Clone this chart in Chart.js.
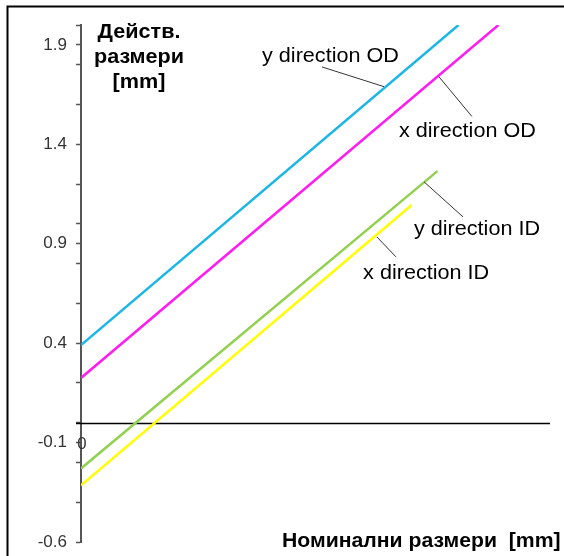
<!DOCTYPE html>
<html>
<head>
<meta charset="utf-8">
<script src="https://cdn.jsdelivr.net/npm/chart.js@4"></script>
<style>
  html, body { margin: 0; padding: 0; background: #fff; }
  #wrap { width: 564px; height: 556px; position: relative; }
</style>
</head>
<body>
<div id="wrap"><canvas id="c"></canvas></div>
<script>
// ---- data ----
const seriesNames = ["y direction OD", "x direction OD", "y direction ID", "x direction ID"];
const nominalStart = [0, 0, 0, 0];
const nominalEnd   = [1.61, 1.78, 1.52, 1.41];
const actualStart  = [0.39, 0.225, -0.23, -0.315];
const actualEnd    = [2.0, 2.0, 1.265, 1.095];
const yTickValues  = [-0.6, -0.4, -0.2, -0.1, 0, 0.2, 0.4, 0.6, 0.8, 0.9, 1.0, 1.2, 1.4, 1.6, 1.8, 1.9, 2.0];
const yTickLabels  = ["1.9", "1.4", "0.9", "0.4", "-0.1", "-0.6"];
const xTickLabels  = ["0"];
const yTitleLines  = ["Действ.", "размери", "[mm]"];
const xTitle       = "Номинални размери  [mm]";

// ---- styles / annotation anchors (data coordinates) ----
const colors = ["#1cb6e6", "#ff1cf0", "#92d050", "#ffff00"];
const labelAnchors = [[0.772, 1.814], [1.356, 1.437], [1.420, 0.944], [1.203, 0.723]];
const leaderLines = [
  [1.028, 1.789, 1.292, 1.690],
  [1.527, 1.739, 1.667, 1.540],
  [1.463, 1.211, 1.629, 1.035],
  [1.262, 0.934, 1.343, 0.834]
];

const datasets = seriesNames.map((n, i) => ({
  label: n,
  data: [{x: nominalStart[i], y: actualStart[i]}, {x: nominalEnd[i], y: actualEnd[i]}],
  borderColor: colors[i],
  backgroundColor: colors[i],
  borderWidth: 2.5,
  showLine: true,
  pointRadius: 0,
  tension: 0
}));

function stretchText(ctx, text, x, y, font, align, sx) {
  ctx.save();
  ctx.font = font;
  const w = ctx.measureText(text).width * sx;
  let left = x;
  if (align === 'center') left = x - w / 2;
  else if (align === 'right') left = x - w;
  ctx.translate(left, y);
  ctx.scale(sx, 1);
  ctx.textAlign = 'left';
  ctx.textBaseline = 'alphabetic';
  ctx.fillText(text, 0, 0);
  ctx.restore();
}

const decor = {
  id: 'decor',
  beforeDatasetsDraw(chart) {
    const ctx = chart.ctx, xs = chart.scales.x, ys = chart.scales.y;
    const y0 = Math.round(ys.getPixelForValue(0)) + 0.5;
    ctx.save();
    ctx.strokeStyle = '#000';
    ctx.lineWidth = 1.5;
    ctx.beginPath();
    ctx.moveTo(xs.getPixelForValue(0) - 5, y0);
    ctx.lineTo(xs.getPixelForValue(2), y0);
    ctx.stroke();
    ctx.restore();
  },
  afterDraw(chart) {
    const ctx = chart.ctx, xs = chart.scales.x, ys = chart.scales.y;
    ctx.save();
    // frame
    ctx.strokeStyle = '#000';
    ctx.lineWidth = 2;
    ctx.beginPath();
    ctx.moveTo(7.5, 556);
    ctx.lineTo(7.5, 6.5);
    ctx.lineTo(564, 6.5);
    ctx.stroke();
    // leader lines
    ctx.strokeStyle = '#333';
    ctx.lineWidth = 1;
    leaderLines.forEach(l => {
      ctx.beginPath();
      ctx.moveTo(xs.getPixelForValue(l[0]), ys.getPixelForValue(l[1]));
      ctx.lineTo(xs.getPixelForValue(l[2]), ys.getPixelForValue(l[3]));
      ctx.stroke();
    });
    // series labels
    ctx.fillStyle = '#000';
    seriesNames.forEach((n, i) => {
      stretchText(ctx, n, xs.getPixelForValue(labelAnchors[i][0]), ys.getPixelForValue(labelAnchors[i][1]),
        '20px "Liberation Sans", Arial, sans-serif', 'left', 1.08);
    });
    // x tick label "0"
    ctx.fillStyle = '#333';
    stretchText(ctx, xTickLabels[0], xs.getPixelForValue(0) + 1, ys.getPixelForValue(0) + 26,
      '16px "Liberation Sans", Arial, sans-serif', 'center', 1.05);
    // y title
    ctx.fillStyle = '#000';
    yTitleLines.forEach((t, i) => {
      stretchText(ctx, t, 139, 38 + i * 25, 'bold 20px "Liberation Sans", Arial, sans-serif', 'center', 1.08);
    });
    // x title
    stretchText(ctx, xTitle, 282, 547, 'bold 20px "Liberation Sans", Arial, sans-serif', 'left', 1.06);
    ctx.restore();
  }
};

new Chart(document.getElementById('c'), {
  type: 'scatter',
  data: { datasets },
  plugins: [decor],
  options: {
    responsive: true,
    maintainAspectRatio: false,
    animation: false,
    layout: { padding: { left: 0, top: 25, right: 14, bottom: 14 } },
    plugins: { legend: { display: false }, tooltip: { enabled: false } },
    scales: {
      x: { type: 'linear', min: 0, max: 2, display: false },
      y: {
        type: 'linear', min: -0.6, max: 2.0,
        afterBuildTicks(scale) { scale.ticks = yTickValues.map(v => ({ value: v })); },
        afterFit(scale) { scale.width = 81; scale.paddingTop = 0; scale.paddingBottom = 0; },
        grid: { drawOnChartArea: false, drawTicks: true, tickLength: 5, tickColor: '#555', tickWidth: 1.5 },
        border: { display: true, color: '#555', width: 2 },
        ticks: {
          autoSkip: false,
          padding: 9,
          color: '#333',
          font: { family: '"Liberation Sans", Arial, sans-serif', size: 17 },
          callback(v) {
            const s = (Math.round(v * 10) / 10).toFixed(1);
            return yTickLabels.includes(s) ? s : '';
          }
        }
      }
    }
  }
});
</script>
</body>
</html>
